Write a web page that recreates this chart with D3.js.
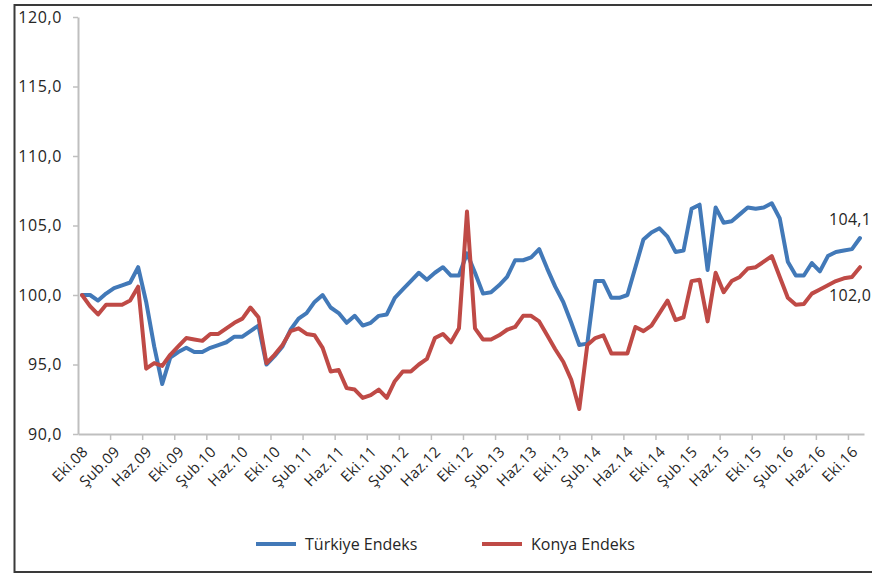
<!DOCTYPE html>
<html>
<head>
<meta charset="utf-8">
<script src="https://cdn.jsdelivr.net/npm/d3@7/dist/d3.min.js"></script>
<style>
  html, body { margin: 0; padding: 0; background: #fff; }
  svg { display: block; }
  text { font-family: "Open Sans", Lato, sans-serif; fill: #262626; }
</style>
</head>
<body>
<svg id="chart" width="872" height="575"></svg>
<script>
// Monthly index series, Eki.08 .. Kas.16 (October 2008 = 100)
const monthNames = ["Oca", "Şub", "Mar", "Nis", "May", "Haz", "Tem", "Ağu", "Eyl", "Eki", "Kas", "Ara"];
const firstYear = 2008, firstMonth = 9, monthCount = 98;

const turkiye = [
  100.0, 100.0, 99.6, 100.1, 100.5, 100.7, 100.9, 102.0, 99.5, 96.3,
  93.6, 95.5, 95.9, 96.2, 95.9, 95.9, 96.2, 96.4, 96.6, 97.0,
  97.0, 97.4, 97.8, 95.0, 95.6, 96.3, 97.5, 98.3, 98.7, 99.5,
  100.0, 99.1, 98.7, 98.0, 98.5, 97.8, 98.0, 98.5, 98.6, 99.8,
  100.4, 101.0, 101.6, 101.1, 101.6, 102.0, 101.4, 101.4, 103.0, 101.6,
  100.1, 100.2, 100.7, 101.3, 102.5, 102.5, 102.7, 103.3, 101.9, 100.6,
  99.5, 98.0, 96.4, 96.5, 101.0, 101.0, 99.8, 99.8, 100.0, 102.0,
  104.0, 104.5, 104.8, 104.2, 103.1, 103.2, 106.2, 106.5, 101.8, 106.3,
  105.2, 105.3, 105.8, 106.3, 106.2, 106.3, 106.6, 105.5, 102.4, 101.4,
  101.4, 102.3, 101.7, 102.8, 103.1, 103.2, 103.3, 104.1
];

const konya = [
  100.0, 99.2, 98.6, 99.3, 99.3, 99.3, 99.6, 100.6, 94.7, 95.1,
  94.9, 95.7, 96.3, 96.9, 96.8, 96.7, 97.2, 97.2, 97.6, 98.0,
  98.3, 99.1, 98.4, 95.1, 95.7, 96.4, 97.4, 97.6, 97.2, 97.1,
  96.2, 94.5, 94.6, 93.3, 93.2, 92.6, 92.8, 93.2, 92.6, 93.8,
  94.5, 94.5, 95.0, 95.4, 96.9, 97.2, 96.6, 97.6, 106.0, 97.6,
  96.8, 96.8, 97.1, 97.5, 97.7, 98.5, 98.5, 98.1, 97.1, 96.1,
  95.2, 93.9, 91.8, 96.4, 96.9, 97.1, 95.8, 95.8, 95.8, 97.7,
  97.4, 97.8, 98.7, 99.6, 98.2, 98.4, 101.0, 101.1, 98.1, 101.6,
  100.2, 101.0, 101.3, 101.9, 102.0, 102.4, 102.8, 101.3, 99.8, 99.3,
  99.35, 100.1, 100.4, 100.7, 101.0, 101.2, 101.3, 102.0
];

const tickLabels = [
  "Eki.08", "Şub.09", "Haz.09", "Eki.09", "Şub.10", "Haz.10", "Eki.10",
  "Şub.11", "Haz.11", "Eki.11", "Şub.12", "Haz.12", "Eki.12", "Şub.13",
  "Haz.13", "Eki.13", "Şub.14", "Haz.14", "Eki.14", "Şub.15", "Haz.15",
  "Eki.15", "Şub.16", "Haz.16", "Eki.16"
];
const yTicks = [90, 95, 100, 105, 110, 115, 120];

const seriesNames = ["Türkiye Endeks", "Konya Endeks"];
const seriesColors = ["#4279b8", "#bf4a46"];

// Category labels "Ay.YY" for every month
const categories = [];
for (let i = 0; i < monthCount; i++) {
  const m = (firstMonth + i) % 12;
  const y = firstYear + Math.floor((firstMonth + i) / 12);
  categories.push(monthNames[m] + "." + String(y).slice(2));
}

const svg = d3.select("#chart");
const fmt = v => v.toFixed(1).replace(".", ",");

// Outer chart frame
svg.append("rect")
  .attr("x", 14.5).attr("y", 5).attr("width", 880).attr("height", 567)
  .attr("fill", "none").attr("stroke", "#3a3a3a").attr("stroke-width", 2);

const plot = { left: 78, right: 864, top: 17, bottom: 434 };

const x = d3.scaleBand().domain(categories).range([plot.left, plot.right]).padding(0);
const xc = c => x(c) + x.bandwidth() / 2;
const xEdge = d3.scaleLinear().domain([0, monthCount]).range([plot.left, plot.right]);
const y = d3.scaleLinear().domain([90, 120]).range([plot.bottom, plot.top]);

const axisColor = "#bfbfbf";

// Y axis
const yAxis = svg.append("g")
  .attr("transform", `translate(${plot.left},0)`)
  .call(d3.axisLeft(y).tickValues(yTicks).tickFormat(fmt).tickSize(5).tickSizeOuter(0).tickPadding(11));
yAxis.select(".domain").attr("stroke", axisColor).attr("stroke-width", 2);
yAxis.selectAll(".tick line").attr("stroke", axisColor).attr("stroke-width", 1.5);
yAxis.selectAll(".tick text")
  .attr("font-size", 16).attr("font-family", "'Open Sans', sans-serif")
  .attr("letter-spacing", 0.6).attr("fill", "#262626");

// X axis: tick marks on category boundaries every four months
const edgeTicks = d3.range(4, monthCount, 4);
const xAxis = svg.append("g")
  .attr("transform", `translate(0,${plot.bottom})`)
  .call(d3.axisBottom(xEdge).tickValues(edgeTicks).tickFormat("").tickSize(6).tickSizeOuter(0));
xAxis.select(".domain").attr("stroke", axisColor).attr("stroke-width", 2);
xAxis.selectAll(".tick line").attr("stroke", axisColor).attr("stroke-width", 1.5);

// Rotated month labels
svg.append("g").selectAll("text")
  .data(tickLabels)
  .join("text")
  .attr("transform", d => `translate(${xc(d) + 3},${plot.bottom + 15}) rotate(-45)`)
  .attr("text-anchor", "end")
  .attr("dy", "0.35em")
  .attr("font-size", 15)
  .attr("letter-spacing", 0.3)
  .text(d => d);

// Lines
const line = d3.line()
  .x((d, i) => xc(categories[i]))
  .y(d => y(d));

[turkiye, konya].forEach((s, k) => {
  svg.append("path")
    .datum(s)
    .attr("fill", "none")
    .attr("stroke", seriesColors[k])
    .attr("stroke-width", 4)
    .attr("stroke-linejoin", "round")
    .attr("stroke-linecap", "round")
    .attr("d", line);
});

// End-of-series value labels
const lastCat = categories[monthCount - 1];
svg.append("text")
  .attr("x", xc(lastCat) - 31).attr("y", y(turkiye[turkiye.length - 1]) - 13)
  .attr("font-size", 16).attr("letter-spacing", 0.3).text(fmt(turkiye[turkiye.length - 1]));
svg.append("text")
  .attr("x", xc(lastCat) - 31).attr("y", y(konya[konya.length - 1]) + 34)
  .attr("font-size", 16).attr("letter-spacing", 0.3).text(fmt(konya[konya.length - 1]));

// Legend
const legend = svg.append("g").attr("transform", "translate(256,544)");
const legendX = [0, 226];
seriesNames.forEach((name, k) => {
  const g = legend.append("g").attr("transform", `translate(${legendX[k]},0)`);
  g.append("line").attr("x1", 0).attr("x2", 40).attr("y1", 0).attr("y2", 0)
    .attr("stroke", seriesColors[k]).attr("stroke-width", 4);
  g.append("text").attr("x", 49).attr("y", 0).attr("dy", "0.35em")
    .attr("font-size", 16).text(name);
});
</script>
</body>
</html>
